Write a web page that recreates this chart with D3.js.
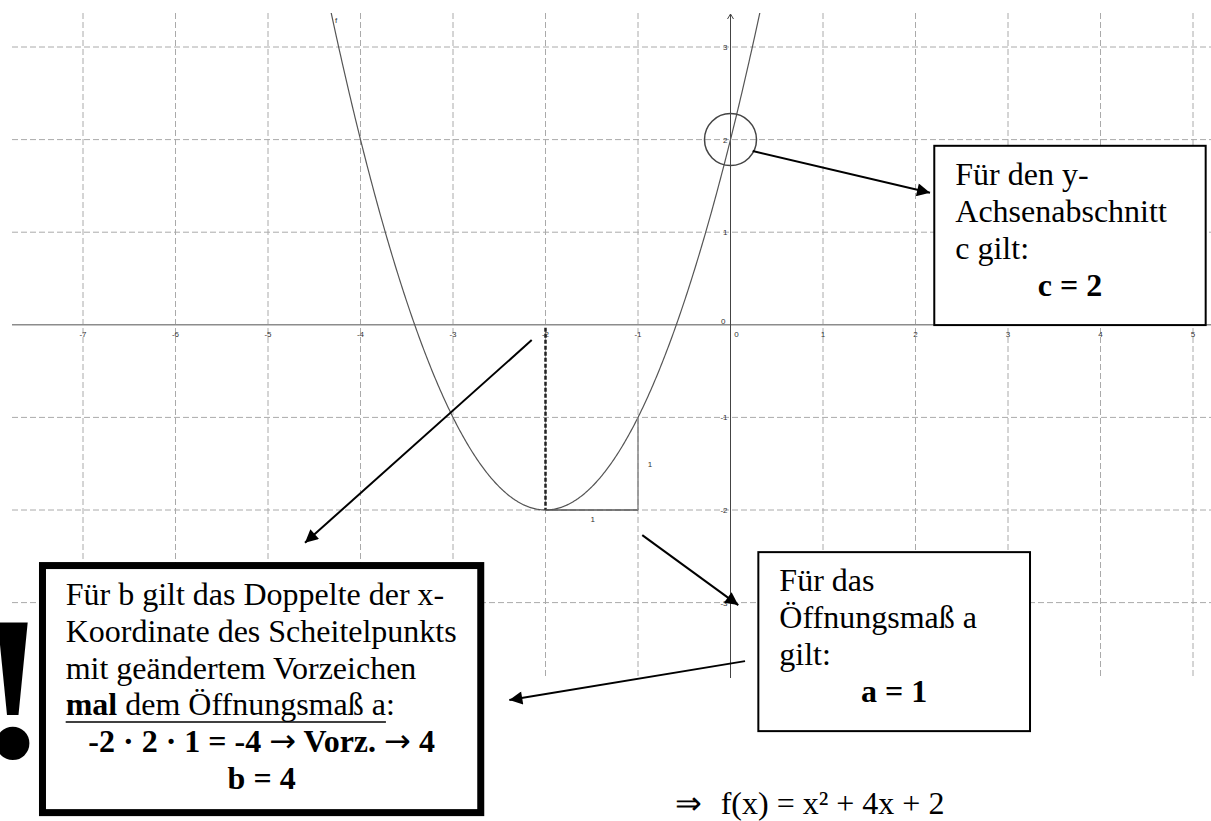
<!DOCTYPE html>
<html>
<head>
<meta charset="utf-8">
<script src="https://cdn.jsdelivr.net/npm/d3@7"></script>
<style>
  html, body { margin: 0; padding: 0; background: #fff; }
  svg { display: block; }
  .serif { font-family: "Liberation Serif", "Times New Roman", serif; }
  .tick { font-family: "Liberation Sans", Arial, sans-serif; font-size: 8px; fill: #333; }
</style>
</head>
<body>
<svg id="chart" width="1211" height="821"></svg>
<script>
// ---------- data ----------
const xTicks = [-7, -6, -5, -4, -3, -2, -1, 0, 1, 2, 3, 4, 5];
const yTicks = [-3, -2, -1, 0, 1, 2, 3];
const coefficients = [1, 4, 2];          // a, b, c  in f(x) = a x² + b x + c
const vertex = [-2, -2];
const yIntercept = [0, 2];
const slopeStep = [1, 1];                 // Δx, Δy of the slope triangle
const boxC = ["Für den y-", "Achsenabschnitt", "c gilt:", "c = 2"];
const boxA = ["Für das", "Öffnungsmaß a", "gilt:", "a = 1"];
const boxB = ["Für b gilt das Doppelte der x-", "Koordinate des Scheitelpunkts", "mit geändertem Vorzeichen",
              "mal dem Öffnungsmaß a:", "-2 · 2 · 1 = -4 → Vorz. → 4", "b = 4"];
const formula = "f(x) = x² + 4x + 2";

// ---------- layout ----------
const W = 1211, H = 821;
const grid = { left: 12, right: 1211, top: 13, bottom: 678 };
const svg = d3.select("#chart");
const x = d3.scaleLinear().domain([-7, 5]).range([83, 1193]);
const y = d3.scaleLinear().domain([3, -3]).range([47, 602.6]);
const f = v => coefficients[0] * v * v + coefficients[1] * v + coefficients[2];

svg.append("rect").attr("width", W).attr("height", H).attr("fill", "#fff");

const defs = svg.append("defs");
defs.append("clipPath").attr("id", "gridclip").append("rect")
  .attr("x", grid.left).attr("y", grid.top)
  .attr("width", grid.right - grid.left).attr("height", grid.bottom - grid.top);
defs.append("marker").attr("id", "arrow")
  .attr("viewBox", "0 0 10 10").attr("refX", 10).attr("refY", 5)
  .attr("markerWidth", 17).attr("markerHeight", 13)
  .attr("markerUnits", "userSpaceOnUse").attr("orient", "auto")
  .append("path").attr("d", "M0,0 L10,5 L0,10 z").attr("fill", "#000");

// ---------- grid ----------
const g = svg.append("g");
g.selectAll("line.vg").data(xTicks.filter(d => d !== 0)).join("line")
  .attr("x1", d => x(d)).attr("x2", d => x(d))
  .attr("y1", grid.top).attr("y2", grid.bottom)
  .attr("stroke", "#aaa").attr("stroke-width", 1).attr("stroke-dasharray", "6,3");
g.selectAll("line.hg").data(yTicks.filter(d => d !== 0)).join("line")
  .attr("x1", grid.left).attr("x2", grid.right)
  .attr("y1", d => y(d)).attr("y2", d => y(d))
  .attr("stroke", "#aaa").attr("stroke-width", 1).attr("stroke-dasharray", "6,3");

// ---------- axes ----------
g.append("line").attr("x1", grid.left).attr("x2", grid.right)
  .attr("y1", y(0)).attr("y2", y(0)).attr("stroke", "#8c8c8c").attr("stroke-width", 1.6);
g.append("line").attr("x1", x(0)).attr("x2", x(0))
  .attr("y1", grid.bottom).attr("y2", grid.top + 1).attr("stroke", "#444").attr("stroke-width", 1);
g.append("path").attr("d", `M${x(0) - 3},${grid.top + 6} L${x(0)},${grid.top + 1} L${x(0) + 3},${grid.top + 6}`)
  .attr("fill", "none").attr("stroke", "#444").attr("stroke-width", 1);

g.selectAll("text.xl").data(xTicks.filter(d => d !== 0)).join("text")
  .attr("class", "tick").attr("x", d => x(d)).attr("y", y(0) + 12)
  .attr("text-anchor", "middle").text(d => d);
g.append("text").attr("class", "tick").attr("x", x(0) + 6).attr("y", y(0) + 12)
  .attr("text-anchor", "middle").text("0");
g.append("text").attr("class", "tick").attr("x", x(0) - 5).attr("y", y(0) - 1)
  .attr("text-anchor", "end").text("0");
g.selectAll("text.yl").data(yTicks.filter(d => d !== 0)).join("text")
  .attr("class", "tick").attr("x", x(0) - 3).attr("y", d => y(d) + 3)
  .attr("text-anchor", "end").text(d => d);

// ---------- curve ----------
const xs = d3.range(-7.8, 5.2, 0.01);
g.append("path").attr("clip-path", "url(#gridclip)")
  .attr("d", d3.line().x(d => x(d)).y(d => y(f(d)))(xs))
  .attr("fill", "none").attr("stroke", "#555").attr("stroke-width", 1.2);
g.append("text").attr("class", "tick").attr("x", x(-4.275)).attr("y", 23).text("f");

// vertex drop line
g.append("line").attr("x1", x(vertex[0])).attr("x2", x(vertex[0]))
  .attr("y1", y(0) + 3).attr("y2", y(vertex[1]))
  .attr("stroke", "#222").attr("stroke-width", 2.5).attr("stroke-dasharray", "4,2");

// slope triangle
g.append("line").attr("x1", x(vertex[0])).attr("x2", x(vertex[0] + slopeStep[0]))
  .attr("y1", y(vertex[1])).attr("y2", y(vertex[1])).attr("stroke", "#555").attr("stroke-width", 1.5);
g.append("line").attr("x1", x(vertex[0] + slopeStep[0])).attr("x2", x(vertex[0] + slopeStep[0]))
  .attr("y1", y(vertex[1])).attr("y2", y(vertex[1] + slopeStep[1])).attr("stroke", "#888").attr("stroke-width", 1.5);
g.append("text").attr("class", "tick").attr("x", x(vertex[0] + 0.51)).attr("y", y(vertex[1]) + 12)
  .attr("text-anchor", "middle").text(slopeStep[0]);
g.append("text").attr("class", "tick").attr("x", x(vertex[0] + slopeStep[0]) + 12).attr("y", y(vertex[1] + 0.5) + 3)
  .attr("text-anchor", "middle").text(slopeStep[1]);

// y-intercept circle
g.append("circle").attr("cx", x(yIntercept[0])).attr("cy", y(yIntercept[1])).attr("r", 26)
  .attr("fill", "none").attr("stroke", "#444").attr("stroke-width", 1.5);

// ---------- arrows ----------
const arrows = [
  [[0.24, 1.876], [2.157, 1.425]],
  [[-2.149, -0.165], [-4.6, -2.354]],
  [[-0.954, -2.271], [0.084, -3.027]],
  [[0.157, -3.632], [-2.391, -4.053]]
];
svg.selectAll("line.arrow").data(arrows).join("line")
  .attr("x1", d => x(d[0][0])).attr("y1", d => y(d[0][1]))
  .attr("x2", d => x(d[1][0])).attr("y2", d => y(d[1][1]))
  .attr("stroke", "#000").attr("stroke-width", 2).attr("marker-end", "url(#arrow)");

// ---------- boxes ----------
const LH = 36.8;
function box(x0, y0, x1, y1, sw, lines, firstOff, textX, opts) {
  const left = x(x0), top = y(y0), right = x(x1), bottom = y(y1);
  svg.append("rect").attr("x", left).attr("y", top)
    .attr("width", right - left).attr("height", bottom - top)
    .attr("fill", "#fff").attr("stroke", "#000").attr("stroke-width", sw);
  const cx = (left + right) / 2;
  lines.forEach((t, i) => {
    const by = top + firstOff + i * LH;
    const centered = opts.centered.includes(i);
    const tx = svg.append("text").attr("class", "serif")
      .attr("font-size", 32).attr("fill", "#000")
      .attr("x", centered ? cx : left + textX).attr("y", by)
      .attr("text-anchor", centered ? "middle" : "start")
      .attr("font-weight", centered ? "bold" : "normal");
    if (opts.underline === i) {
      tx.append("tspan").attr("font-weight", "bold").text("mal");
      tx.append("tspan").text(t.slice(3));
      const n = tx.node();
      const endIdx = t.lastIndexOf("a");
      const x2 = n.getEndPositionOfChar(endIdx).x;
      svg.append("line").attr("x1", left + textX).attr("x2", x2)
        .attr("y1", by + 6.5).attr("y2", by + 6.5).attr("stroke", "#000").attr("stroke-width", 1.6);
    } else if (t.includes("→")) {
      t.split(/(→)/).forEach(part => {
        const sp = tx.append("tspan").text(part);
        if (part === "→") sp.attr("font-family", "'DejaVu Sans', sans-serif").attr("font-weight", "normal");
      });
    } else {
      tx.text(t);
    }
  });
}
box(2.203, 1.933, 5.137, -0.003, 2, boxC, 39.5, 21, { centered: [3] });
box(0.301, -2.455, 3.238, -4.388, 2, boxA, 39, 21, { centered: [3] });
box(-7.438, -2.6, -2.70, -5.268, 7, boxB, 39.5, 23.2, { centered: [4, 5], underline: 3 });

// exclamation mark
svg.append("text").attr("class", "serif").attr("font-weight", "bold")
  .attr("font-size", 205).attr("x", 13).attr("y", 757).attr("text-anchor", "middle").text("!");

// resulting formula
svg.append("text").attr("class", "serif").attr("font-size", 32).attr("x", 675).attr("y", 814).text("⇒");
svg.append("text").attr("class", "serif").attr("font-size", 32).attr("x", 720.7).attr("y", 814).text(formula);
</script>
</body>
</html>
